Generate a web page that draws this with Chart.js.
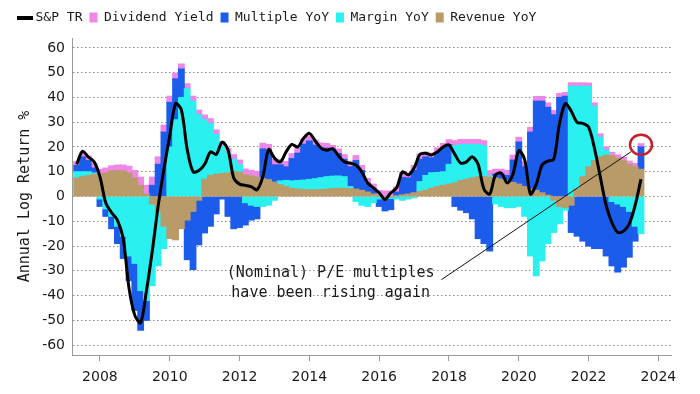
<!DOCTYPE html>
<html>
<head>
<meta charset="utf-8">
<script src="https://cdn.jsdelivr.net/npm/chart.js@4"></script>
<style>
html,body{margin:0;padding:0;background:#fff;}
#wrap{width:700px;height:394px;position:relative;}
</style>
</head>
<body>
<div id="wrap"><canvas id="c" width="700" height="394"></canvas></div>
<script>
// ---- data (bi-monthly periods, label = first month of period) ----
const dates = [
'2007-04','2007-06','2007-08','2007-10','2007-12',
'2008-02','2008-04','2008-06','2008-08','2008-10','2008-12',
'2009-02','2009-04','2009-06','2009-08','2009-10','2009-12',
'2010-02','2010-04','2010-06','2010-08','2010-10','2010-12',
'2011-02','2011-04','2011-06','2011-08','2011-10','2011-12',
'2012-02','2012-04','2012-06','2012-08','2012-10','2012-12',
'2013-02','2013-04','2013-06','2013-08','2013-10','2013-12',
'2014-02','2014-04','2014-06','2014-08','2014-10','2014-12',
'2015-02','2015-04','2015-06','2015-08','2015-10','2015-12',
'2016-02','2016-04','2016-06','2016-08','2016-10','2016-12',
'2017-02','2017-04','2017-06','2017-08','2017-10','2017-12',
'2018-02','2018-04','2018-06','2018-08','2018-10','2018-12',
'2019-02','2019-04','2019-06','2019-08','2019-10','2019-12',
'2020-02','2020-04','2020-06','2020-08','2020-10','2020-12',
'2021-02','2021-04','2021-06','2021-08','2021-10','2021-12',
'2022-02','2022-04','2022-06','2022-08','2022-10','2022-12',
'2023-02','2023-04','2023-06'
];

const spxTR = [
13, 18.3, 16, 14, 8, -2.5, -6.5, -9.5, -17, -37,
-48, -51, -38, -22, -4, 11, 24.5, 37.5, 35, 19,
10, 10.5, 13, 18, 17, 22, 19, 7.5, 5, 4.5,
4, 2.7, 8, 19, 15.5, 14, 18, 21, 20, 23.5,
25.5, 22.5, 19.5, 18.7, 19.3, 16.5, 14, 13.5, 12.7, 10,
5.5, 3.5, 1.5, -1.2, 1.5, 3.5, 10, 8.7, 11.5, 17,
17.5, 16.8, 18, 20, 20.8, 17, 13.5, 14, 16, 13,
3, 1, 8.8, 9.4, 5.5, 9, 18.5, 15, 1, 5,
12.7, 14.3, 15, 29.5, 37.5, 34.5, 30, 29.5, 28, 19.5,
8, -3.5, -10.5, -14.5, -14, -11, -3.5, 7
];

const revenueYoY = [
7.5, 8, 8.5, 9, 9, 9.5, 10.3, 10.5, 10.3, 9.5,
7.5, 4.5, 1, -3, -6, -12, -17, -17.5, -13, -9.5,
-6, -1.5, 7, 8.5, 9, 9.3, 9.5, 10, 9.8, 8.8,
8.3, 7.8, 7.2, 6.8, 5.8, 4.8, 4, 3.3, 3, 2.8,
2.7, 2.7, 2.8, 3, 3.2, 3.3, 3.3, 3.2, 3, 2.5,
1.8, 1, 0.3, -0.3, -0.3, 0.3, 0.7, 1, 1.5, 2,
2.5, 3.3, 4, 4.5, 5, 5.5, 6.5, 7, 7.5, 8,
8, 7.8, 7.5, 7, 6.5, 5.7, 5, 4, 3, 2.5,
1.5, 0.5, -1.5, -4, -4.5, -3.5, 3, 8, 12, 14.5,
16, 16.7, 16.5, 15.5, 14.5, 13, 12, 11
];

const marginYoY = [
2.5, 2, 1.5, 0.5, -1, -5, -8, -12, -16, -24,
-27, -38, -42, -33, -22, -9, 20, 31, 40, 43.5,
38.5, 33, 24, 21, 16, 11, 8, 5, 3, -2.5,
-3.5, -4, -4, -3.5, -1.5, 1.5, 2.5, 3, 3.5, 3.8,
4.2, 4.5, 4.8, 5, 5, 5, 4.7, 0.8, -2, -3.5,
-4, -2.5, -1, -0.5, -0.5, -1, -1.5, -1, -0.5, 4,
6, 6.3, 5.7, 5.5, 8, 15, 14.5, 14, 13.5, 13,
12.5, 0.5, -3, -4, -4.5, -4.5, -4, -8, -24, -32,
-26, -19, -13, -7, -1, 44.5, 41.5, 36.5, 32.5, 22,
8, 2, -2, -3, -4, -6, -12, -15
];

const multipleYoY = [
2.5, 6, 4.5, 2, -3, -3, -5, -7, -9, -10,
-19, -16, -8, 4.5, 13, 26, 18, 16.5, 11.5, -16,
-23.5, -18, -14.7, -12, -7, -1, -8, -13, -12.5, -9,
-6, -5, 12, 12, 7, 6.5, 5.5, 9, 11, 14.5,
15.5, 13.5, 12, 11.5, 10.5, 9, 7, 8, 11.5, 8,
3.5, 2, -3, -5, -4.5, 1.5, 7, 6.5, 9, 9,
7.5, 6, 8, 9.5, 8, -4, -5.5, -6.5, -9, -17,
-19, -22, 1.5, 2, 2, 9, 17, 8, 23, 36,
37, 35.5, 33, 40, 40.5, -11, -16, -18, -20, -21,
-21, -24, -26, -27.5, -24.5, -18.5, -6, 9
];

const dividendYield = [
1.6, 1.7, 1.8, 1.9, 2, 2, 2.1, 2.2, 2.4, 2.7,
3, 3.3, 3.5, 3.3, 3, 2.8, 2.5, 2.3, 2, 2,
2, 1.9, 1.9, 1.9, 1.9, 1.9, 1.9, 1.9, 1.9, 2.3,
2.3, 2.3, 2.3, 2.2, 2.2, 2.1, 2.1, 2, 2, 2,
2, 2, 2, 1.9, 1.9, 1.9, 1.9, 1.9, 2, 2,
2, 2, 2.1, 2.2, 2.2, 2.1, 2, 2, 2, 2,
1.9, 1.9, 1.9, 1.9, 1.9, 2, 2, 2, 2, 2,
2, 2.1, 2, 2, 2, 2, 1.9, 1.9, 1.9, 1.9,
1.9, 1.8, 1.7, 1.6, 1.5, 1.4, 1.4, 1.4, 1.3, 1.3,
1.3, 1.3, 1.3, 1.3, 1.3, 1.3, 1.3, 1.3
];

const yTicks = [-60, -50, -40, -30, -20, -10, 0, 10, 20, 30, 40, 50, 60];
const xTicks = [2008, 2010, 2012, 2014, 2016, 2018, 2020, 2022, 2024];

const noteText = ['(Nominal) P/E multiples', 'have been rising again'];
// annotation anchors in data units [year, value]
const noteAnchor = { textX: 2014.61, textY: [-30.8, -38.9],
  lineFrom: [2017.78, -33.6], lineTo: [2023.23, 18.2], circle: [2023.50, 20.9] };

// ---- helpers ----
const toYear = s => { const p = s.split('-').map(Number); return p[0] + p[1] / 12; };
const xs = dates.map(toYear);
const pts = arr => arr.map((v, i) => ({ x: xs[i], y: v }));

const COLORS = { rev: '#B99B69', mar: '#2AF0F0', mult: '#1C5CEB', div: '#EE87E8', spx: '#000000' };

const lineMarker = document.createElement('canvas');
lineMarker.width = 16; lineMarker.height = 4;
{ const g = lineMarker.getContext('2d'); g.fillStyle = '#000'; g.fillRect(0, 0, 16, 4); }

const legendRank = { 0: 0, 4: 1, 3: 2, 2: 3, 1: 4 };

const notePlugin = {
  id: 'note',
  beforeLayout(chart) {
    const lg = chart.legend;
    if (lg && !lg._extraSpace) {
      const f = lg.fit.bind(lg);
      lg.fit = function () { f(); this.height += 4; };
      lg._extraSpace = true;
    }
  },
  afterDatasetsDraw(chart) {
    const { ctx } = chart; const x = chart.scales.x, y = chart.scales.y;
    ctx.save();
    ctx.strokeStyle = '#111'; ctx.lineWidth = 1;
    ctx.beginPath();
    ctx.moveTo(x.getPixelForValue(noteAnchor.lineFrom[0]), y.getPixelForValue(noteAnchor.lineFrom[1]));
    ctx.lineTo(x.getPixelForValue(noteAnchor.lineTo[0]), y.getPixelForValue(noteAnchor.lineTo[1]));
    ctx.stroke();
    ctx.strokeStyle = '#C8202A'; ctx.lineWidth = 2.5;
    ctx.beginPath();
    ctx.ellipse(x.getPixelForValue(noteAnchor.circle[0]), y.getPixelForValue(noteAnchor.circle[1]), 11, 10, 0, 0, Math.PI * 2);
    ctx.stroke();
    ctx.font = '15px "DejaVu Sans Mono", monospace';
    ctx.fillStyle = '#1a1a1a'; ctx.textAlign = 'center'; ctx.textBaseline = 'middle';
    noteText.forEach((t, i) => ctx.fillText(t, x.getPixelForValue(noteAnchor.textX), y.getPixelForValue(noteAnchor.textY[i])));
    ctx.restore();
  }
};

const barDs = (label, data, color) => ({
  type: 'bar', label, data: pts(data), backgroundColor: color, borderWidth: 0,
  barPercentage: 1, categoryPercentage: 1, inflateAmount: 0.5, stack: 'comp'
});

new Chart(document.getElementById('c'), {
  type: 'bar',
  data: {
    datasets: [
      { type: 'line', label: 'S&P TR', data: pts(spxTR), borderColor: COLORS.spx, borderWidth: 3,
        pointRadius: 0, tension: 0.3, fill: false, stack: 'line', pointStyle: lineMarker },
      barDs('Revenue YoY', revenueYoY, COLORS.rev),
      barDs('Margin YoY', marginYoY, COLORS.mar),
      barDs('Multiple YoY', multipleYoY, COLORS.mult),
      barDs('Dividend Yield', dividendYield, COLORS.div)
    ]
  },
  options: {
    responsive: false, animation: false, devicePixelRatio: 1,
    layout: { padding: { left: 14, top: 4, right: 29, bottom: 0 } },
    plugins: {
      tooltip: { enabled: false },
      legend: {
        position: 'top', align: 'start',
        labels: {
          usePointStyle: true, pointStyleWidth: 8, boxHeight: 10, padding: 7,
          color: '#1a1a1a', font: { family: '"DejaVu Sans Mono", monospace', size: 13 },
          sort: (a, b) => legendRank[a.datasetIndex] - legendRank[b.datasetIndex],
          generateLabels(chart) {
            const items = Chart.defaults.plugins.legend.labels.generateLabels(chart);
            items.forEach(it => {
              it.pointStyle = it.datasetIndex === 0 ? lineMarker : 'rect';
              it.lineWidth = 0; it.strokeStyle = 'rgba(0,0,0,0)';
              if (it.datasetIndex !== 0) it.fillStyle = chart.data.datasets[it.datasetIndex].backgroundColor;
            });
            return items;
          }
        }
      }
    },
    scales: {
      x: {
        type: 'linear', stacked: true, offset: false, min: 2007.2, max: 2024.36,
        afterBuildTicks: s => { s.ticks = xTicks.map(v => ({ value: v })); },
        afterFit: s => { s.height = 39; },
        grid: { drawOnChartArea: false, drawTicks: true, tickLength: 6, color: '#9a9a9a', offset: false },
        border: { color: '#9a9a9a', width: 1 },
        ticks: { padding: 8, color: '#1a1a1a', font: { family: '"DejaVu Sans", sans-serif', size: 14 },
                 maxRotation: 0, autoSkip: false, callback: v => String(v) }
      },
      y: {
        stacked: true, min: -64, max: 64,
        afterBuildTicks: s => { s.ticks = yTicks.map(v => ({ value: v })); },
        afterFit: s => { s.width = 58; },
        grid: { drawTicks: false, color: '#8a8a8a', lineWidth: 1 },
        border: { color: '#9a9a9a', width: 1, dash: [1.5, 2.5] },
        ticks: { padding: 7, color: '#1a1a1a', font: { family: '"DejaVu Sans", sans-serif', size: 14 },
                 callback: v => String(v) },
        title: { display: true, text: 'Annual Log Return %', color: '#1a1a1a',
                 font: { family: '"DejaVu Sans Mono", monospace', size: 15 }, padding: { top: 2, bottom: 0 } }
      }
    }
  },
  plugins: [notePlugin]
});
</script>
</body>
</html>
